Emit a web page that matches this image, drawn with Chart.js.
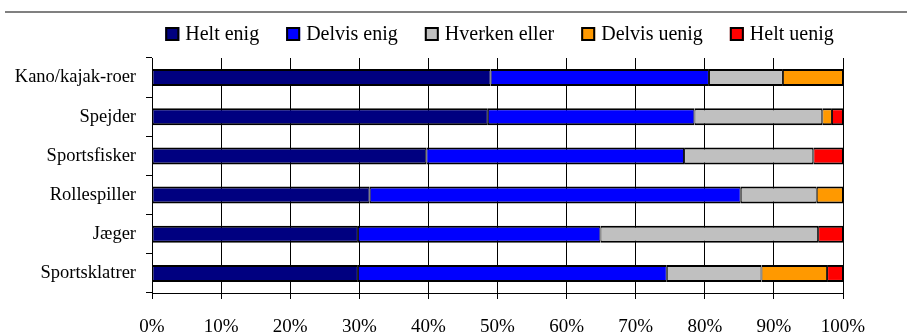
<!DOCTYPE html>
<html>
<head>
<meta charset="utf-8">
<script src="https://cdn.jsdelivr.net/npm/chart.js@4/dist/chart.umd.min.js"></script>
<style>
  html, body { margin: 0; padding: 0; background: #ffffff; }
  #wrap { width: 907px; height: 333px; position: relative; }
</style>
</head>
<body>
<div id="wrap"><canvas id="c"></canvas></div>
<script>
// ---- data ----
const categories = ["Kano/kajak-roer", "Spejder", "Sportsfisker", "Rollespiller", "Jæger", "Sportsklatrer"];
const seriesNames = ["Helt enig", "Delvis enig", "Hverken eller", "Delvis uenig", "Helt uenig"];
const heltEnig     = [49.0, 48.6, 39.7, 31.5, 29.8, 29.8];
const delvisEnig   = [31.6, 29.9, 37.3, 53.7, 35.1, 44.7];
const hverkenEller = [10.7, 18.5, 18.7, 11.0, 31.5, 13.7];
const delvisUenig  = [ 8.7,  1.4,  0.0,  3.8,  0.0,  9.5];
const heltUenig    = [ 0.0,  1.6,  4.3,  0.0,  3.6,  2.3];
const tickValues   = [0, 10, 20, 30, 40, 50, 60, 70, 80, 90, 100];

const seriesValues = [heltEnig, delvisEnig, hverkenEller, delvisUenig, heltUenig];
const seriesColors = ["#000080", "#0000FF", "#C0C0C0", "#FF9900", "#FF0000"];

const SERIF = '"Liberation Serif", "Times New Roman", serif';

const datasets = seriesNames.map((name, i) => ({
  label: name,
  data: seriesValues[i].map(v => (v === 0 ? null : v)),
  backgroundColor: seriesColors[i],
  borderColor: "#000000",
  borderWidth: { top: 2, bottom: 2, left: 1, right: 1 },
  borderSkipped: false,
  barPercentage: 0.435,
  categoryPercentage: 1.0
}));

// top rule + legend row
const decorPlugin = {
  id: "decor",
  beforeDraw(chart) {
    const ctx = chart.ctx;
    ctx.save();
    ctx.strokeStyle = "#808080";
    ctx.lineWidth = 2;
    ctx.beginPath();
    ctx.moveTo(5, 12);
    ctx.lineTo(907, 12);
    ctx.stroke();
    ctx.restore();
  },
  afterDraw(chart) {
    const ctx = chart.ctx;
    ctx.save();
    ctx.font = "20px " + SERIF;
    ctx.textBaseline = "middle";
    ctx.textAlign = "left";
    const box = 14, boxGap = 6, itemGap = 27, centerX = 499.5, boxTop = 27;
    const items = chart.data.datasets.map(ds => ({
      text: ds.label, color: ds.backgroundColor, w: ctx.measureText(ds.label).width
    }));
    const total = items.reduce((s, it) => s + box + boxGap + it.w, 0) + itemGap * (items.length - 1);
    let x = centerX - total / 2;
    items.forEach(it => {
      ctx.fillStyle = it.color;
      ctx.fillRect(x, boxTop, box, box);
      ctx.strokeStyle = "#000";
      ctx.lineWidth = 2;
      ctx.strokeRect(x + 1, boxTop + 1, box - 2, box - 2);
      ctx.fillStyle = "#000";
      ctx.fillText(it.text, x + box + boxGap, boxTop + box / 2 + 0.5);
      x += box + boxGap + it.w + itemGap;
    });
    ctx.restore();
  }
};

new Chart(document.getElementById("c"), {
  type: "bar",
  data: { labels: categories, datasets },
  options: {
    indexAxis: "y",
    responsive: true,
    maintainAspectRatio: false,
    animation: false,
    layout: { padding: { top: 58, right: 64, bottom: 0, left: 0 } },
    plugins: {
      legend: { display: false },
      tooltip: { enabled: false },
      title: { display: false }
    },
    scales: {
      x: {
        stacked: true,
        min: 0,
        max: 100,
        afterBuildTicks(scale) { scale.ticks = tickValues.map(v => ({ value: v })); },
        afterFit(scale) { scale.height = 40; },
        grid: { color: "#000000", lineWidth: 1, tickLength: 6, drawTicks: true, drawOnChartArea: true },
        border: { display: true, color: "#000000", width: 1 },
        ticks: {
          color: "#000000",
          padding: 17,
          maxRotation: 0,
          font: { family: SERIF, size: 19 },
          callback: v => v + "%"
        }
      },
      y: {
        stacked: true,
        afterFit(scale) { scale.width = 152; },
        grid: { drawOnChartArea: false, drawTicks: true, tickLength: 6, color: "#000000", offset: true },
        border: { display: true, color: "#000000", width: 1 },
        ticks: {
          color: "#000000",
          padding: 10,
          font: { family: SERIF, size: 18.5 }
        }
      }
    }
  },
  plugins: [decorPlugin]
});
</script>
</body>
</html>
